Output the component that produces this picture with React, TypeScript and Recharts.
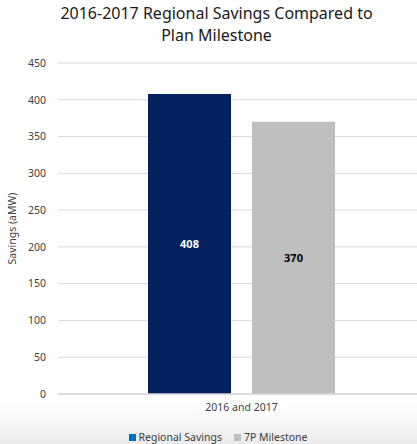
import { BarChart, Bar, XAxis, YAxis, CartesianGrid, LabelList } from 'recharts';

const categories = ['2016 and 2017'];
const regionalSavings = [408];
const milestone = [370];
const yTicks = [0, 50, 100, 150, 200, 250, 300, 350, 400, 450];

const data = categories.map((name, i) => ({
  name,
  regional: regionalSavings[i],
  milestone: milestone[i],
}));

const FONT = '"Noto Sans", "Open Sans", sans-serif';

if (typeof document !== 'undefined') {
  document.body.style.margin = '0';
}

export default function App() {
  return (
    <div style={{ position: 'relative', width: 417, height: 444, background: '#fff', fontFamily: FONT, overflow: 'hidden' }}>
      {/* bottom shaded strip */}
      <div
        style={{
          position: 'absolute',
          left: 0,
          top: 404,
          width: 417,
          height: 40,
          background: 'linear-gradient(#ffffff, #ebebeb)',
        }}
      />
      <div
        style={{
          position: 'absolute',
          top: 2,
          left: 8,
          width: 417,
          textAlign: 'center',
          fontSize: 16,
          lineHeight: '22px',
          color: '#1a1a1a',
        }}
      >
        2016-2017 Regional Savings Compared to
        <br />
        Plan Milestone
      </div>
      <div style={{ position: 'absolute', top: 0, left: 0 }}>
        <BarChart
          width={417}
          height={444}
          data={data}
          margin={{ top: 63, right: 0, left: 0, bottom: 26 }}
          barCategoryGap={82}
          barGap={21}
        >
          <CartesianGrid vertical={false} stroke="#d9d9d9" />
          <XAxis
            dataKey="name"
            padding={{ left: 8, right: 0 }}
            height={24}
            tickLine={false}
            axisLine={{ stroke: '#d9d9d9', strokeWidth: 1.5 }}
            tick={{ fontSize: 10.5, fill: '#404040', fontFamily: FONT }}
            tickMargin={4}
          />
          <YAxis
            width={58}
            domain={[0, 450]}
            ticks={yTicks}
            interval={0}
            axisLine={false}
            tickLine={false}
            tickMargin={6}
            tick={{ fontSize: 10.5, fill: '#404040', fontFamily: FONT }}
            label={{
              value: 'Savings (aMW)',
              angle: -90,
              position: 'insideLeft',
              offset: 12,
              style: { textAnchor: 'middle', fontSize: 10.5, fill: '#404040', fontFamily: FONT },
            }}
          />
          <Bar dataKey="regional" fill="#03215f" barSize={83} isAnimationActive={false}>
            <LabelList dataKey="regional" position="center" fill="#ffffff" fontSize={11} fontWeight="bold" fontFamily={FONT} />
          </Bar>
          <Bar dataKey="milestone" fill="#bfbfbf" barSize={83} isAnimationActive={false}>
            <LabelList dataKey="milestone" position="center" fill="#000000" fontSize={11} fontWeight="bold" fontFamily={FONT} />
          </Bar>
        </BarChart>
      </div>
      {/* legend */}
      <div
        style={{
          position: 'absolute',
          top: 430,
          left: 0,
          width: 417,
          paddingLeft: 20,
          boxSizing: 'border-box',
          display: 'flex',
          justifyContent: 'center',
          gap: 12,
          fontSize: 10.5,
          color: '#404040',
          lineHeight: '14px',
        }}
      >
        <span style={{ display: 'flex', alignItems: 'center' }}>
          <span style={{ width: 7, height: 7, background: '#0070c0', marginRight: 2 }} />
          Regional Savings
        </span>
        <span style={{ display: 'flex', alignItems: 'center' }}>
          <span style={{ width: 7, height: 7, background: '#bfbfbf', marginRight: 3 }} />
          7P Milestone
        </span>
      </div>
    </div>
  );
}
